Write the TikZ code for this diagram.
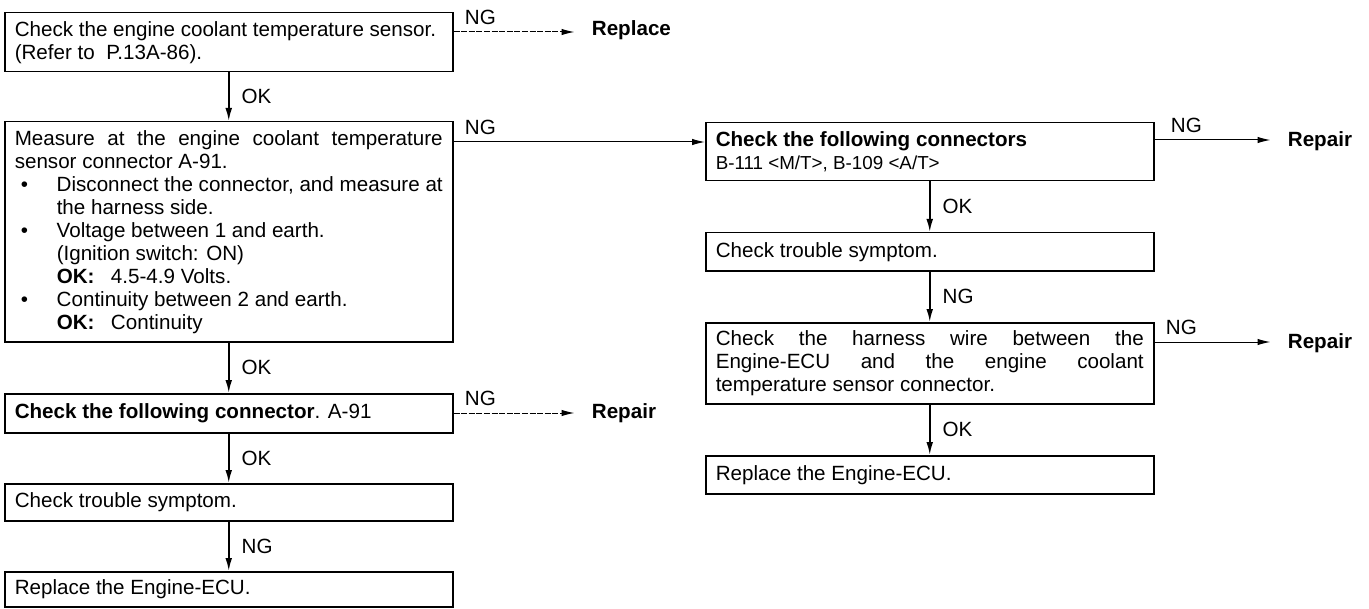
\documentclass[tikz,border=0pt]{standalone}
\usepackage{fontspec}
\setmainfont{Liberation Sans}
\usetikzlibrary{arrows.meta,calc}

% body text size used in every box and label
\newcommand{\fs}{\fontsize{10.3pt}{11.5pt}\selectfont}
% a line spread to the full box width
\newcommand{\jline}[1]{{\spaceskip=0pt\xspaceskip=0pt\makebox[\hsize][s]{#1}}}
% bullet and hanging indent for the check list
\newcommand{\flowbullet}{\makebox[21pt][l]{\hspace{3pt}\textbullet}}
\newcommand{\flowindent}{\hspace*{21pt}}

\tikzset{
  box/.style={draw, line width=0.75pt, anchor=north west, minimum width=224pt,
    text width=214pt, inner xsep=5pt, inner ysep=0pt, align=left, font=\fs,
    execute at begin node={\spaceskip=0pt\xspaceskip=0pt}},
  flow/.style={line width=0.9pt, -{Latex[length=6.5pt,width=3.4pt]}},
  side/.style={line width=0.5pt, -{Latex[length=6.5pt,width=3.2pt]}},
  sidedash/.style={side, dash pattern=on 3pt off 0.8pt},
  tag/.style={font=\fs, inner sep=1pt},
  result/.style={font=\fs\bfseries, inner xsep=8.5pt, inner ysep=0pt, anchor=base west},
}

\begin{document}
\begin{tikzpicture}[x=0.5pt, y=-0.5pt]
\useasboundingbox (0,0) rectangle (1369,609);

% ---------- left column ----------
\node[box, minimum height=29.5pt] (L1) at (4,12)
  {Check the engine coolant temperature sensor.\\(Refer to\ \ P.13A-86).};

\node[box, minimum height=110pt] (L2) at (4,121)
  {\jline{Measure at the engine coolant temperature}\\
   sensor connector A-91.\\
   \flowbullet{\spaceskip=0pt\makebox[\dimexpr\hsize-21pt\relax][s]{Disconnect the connector, and measure at}}\\
   \flowindent the harness side.\\
   \flowbullet Voltage between 1 and earth.\\
   \flowindent (Ignition switch: ON)\\
   \flowindent\textbf{OK:}\hspace{0.8em}4.5-4.9 Volts.\\
   \flowbullet Continuity between 2 and earth.\\
   \flowindent\textbf{OK:}\hspace{0.8em}Continuity};

\node[box, minimum height=19.5pt] (L3) at (4,393)
  {\textbf{Check the following connector}. A-91};

\node[box, minimum height=18.5pt] (L4) at (4,483)
  {Check trouble symptom.};

\node[box, minimum height=17.5pt] (L5) at (4,571)
  {Replace the Engine-ECU.};

% ---------- right column ----------
\node[box, minimum height=29pt] (R1) at (705,122)
  {\textbf{Check the following connectors}\\
   {\fontsize{9.4pt}{11.5pt}\selectfont B-111 <M/T>, B-109 <A/T>}};

\node[box, minimum height=19pt] (R2) at (705,232)
  {Check trouble symptom.};

\node[box, minimum height=40.5pt] (R3) at (705,322)
  {\jline{Check the harness wire between the}\\
   \jline{Engine-ECU and the engine coolant}\\
   temperature sensor connector.};

\node[box, minimum height=19pt] (R4) at (705,455)
  {Replace the Engine-ECU.};

% ---------- downward flow ----------
\draw[flow] (L1.south) -- node[tag, right, xshift=5pt] (okL1) {OK} (L2.north);
\draw[flow] (L2.south) -- node[tag, right, xshift=5pt] (okL2) {OK} (L3.north);
\draw[flow] (L3.south) -- node[tag, right, xshift=5pt] (okL3) {OK} (L4.north);
\draw[flow] (L4.south) -- node[tag, right, xshift=5pt] (ngL4) {NG} (L5.north);

\draw[flow] (R1.south) -- node[tag, right, xshift=5pt] (okR1) {OK} (R2.north);
\draw[flow] (R2.south) -- node[tag, right, xshift=5pt] (ngR2) {NG} (R3.north);
\draw[flow] (R3.south) -- node[tag, right, xshift=5pt] (okR3) {OK} (R4.north);

% ---------- NG branches ----------
\coordinate (n1) at ($(L1.north east)+(0,20)$);
\node[result] (rep1) at ($(n1)+(121,4)$) {Replace};
\draw[sidedash] (n1) -- (n1 -| rep1.west);
\node[tag, anchor=south west] (ng1) at ($(n1)+(9,-5)$) {NG};

\coordinate (n2) at ($(L2.north east)+(0,21)$);
\draw[side] (n2) -- (n2 -| R1.west);
\node[tag, anchor=south west] (ng2) at ($(n2)+(9,-5)$) {NG};

\coordinate (n3) at ($(L3.north east)+(0,20)$);
\node[result] (rep3) at ($(n3)+(121,5)$) {Repair};
\draw[sidedash] (n3) -- (n3 -| rep3.west);
\node[tag, anchor=south west] (ng3) at ($(n3)+(9,-5)$) {NG};

\coordinate (n4) at ($(R1.north east)+(0,18)$);
\node[result] (rep4) at ($(n4)+(116,7)$) {Repair};
\draw[side] (n4) -- (n4 -| rep4.west);
\node[tag, anchor=south west] (ng4) at ($(n4)+(14,-5)$) {NG};

\coordinate (n5) at ($(R3.north east)+(0,20)$);
\node[result] (rep5) at ($(n5)+(116,6)$) {Repair};
\draw[side] (n5) -- (n5 -| rep5.west);
\node[tag, anchor=south west] (ng5) at ($(n5)+(9,-5)$) {NG};
\end{tikzpicture}
\end{document}
